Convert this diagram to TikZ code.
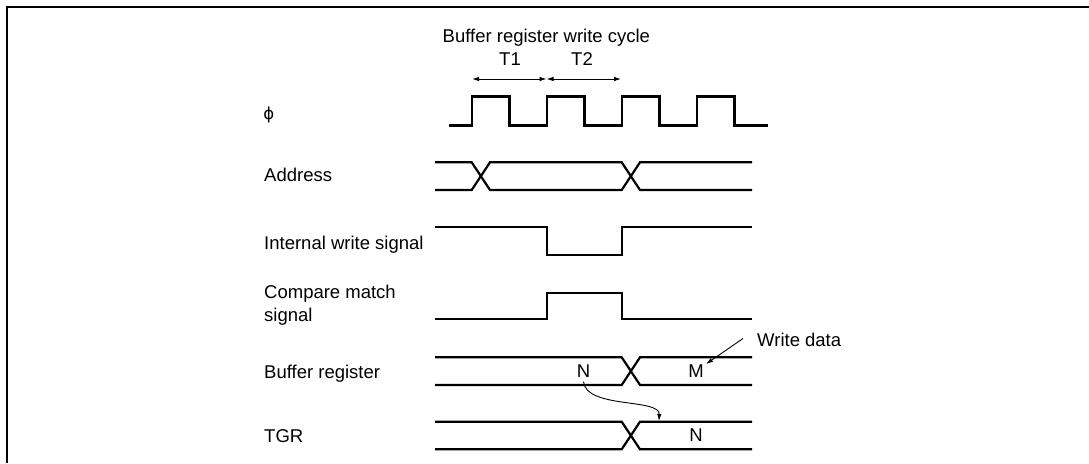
\documentclass[tikz,border=0pt]{standalone}
\usepackage{fontspec}
\setmainfont{Liberation Sans}
\newfontfamily\dejavusym{DejaVu Sans}
\usetikzlibrary{arrows.meta}
\begin{document}
\begin{tikzpicture}[x=1pt,y=-1pt,
  sig/.style={line width=2.2pt,line join=miter,line cap=butt},
  frame/.style={line width=2.6pt},
  lbl/.style={inner sep=0pt,font=\fontsize{18.5}{22.2}\selectfont},
  thinarrow/.style={line width=0.9pt,-{Latex[length=7pt,width=4.5pt]}},
  dblarrow/.style={line width=0.9pt,{Latex[length=7pt,width=4.5pt]}-{Latex[length=7pt,width=4.5pt]}}]
\useasboundingbox (0,0) rectangle (1089,463);
% frame (cropped)
\draw[frame] (7,463) -- (7,7) -- (1089,7);
% titles
\node[lbl,anchor=base west] (title) at (442.5,42) {Buffer register write cycle};
\node[lbl,anchor=base] (t1) at (510,65) {T1};
\node[lbl,anchor=base] (t2) at (582,65) {T2};
\coordinate (a0) at (472,79);
\coordinate (a1) at (546.5,79);
\coordinate (a2) at (621,79);
\draw[dblarrow] (a0) -- (a1);
\draw[dblarrow] (a1) -- (a2);
% labels
\node[lbl,anchor=base,font=\dejavusym\fontsize{16.5}{20}\selectfont] (phi) at (268.7,119) {ϕ};
\node[lbl,anchor=base west] (addr) at (264,181.5) {Address};
\node[lbl,anchor=base west] (iws) at (264,249) {Internal write signal};
\node[lbl,anchor=base west,align=left] (cms) at (264,321) {Compare match\\signal};
\node[lbl,anchor=base west] (bufr) at (264,378.3) {Buffer register};
\node[lbl,anchor=base west] (tgr) at (264,442.7) {TGR};
% clock
\draw[sig] (449,125.5) -- (472,125.5) -- (472,96.5) -- (509.5,96.5) -- (509.5,125.5)
  -- (547,125.5) -- (547,96.5) -- (584.5,96.5) -- (584.5,125.5)
  -- (622,125.5) -- (622,96.5) -- (659.5,96.5) -- (659.5,125.5)
  -- (697,125.5) -- (697,96.5) -- (734.5,96.5) -- (734.5,125.5) -- (768,125.5);
% address bus
\draw[sig] (435,162.3) -- (471.7,162.3) -- (490,190) -- (621.7,190) -- (640,162.3) -- (752,162.3);
\draw[sig] (435,190) -- (471.7,190) -- (490,162.3) -- (621.7,162.3) -- (640,190) -- (752,190);
% internal write
\draw[sig] (435,227.3) -- (546.7,227.3) -- (546.7,255) -- (621.7,255) -- (621.7,227.3) -- (752,227.3);
% compare match
\draw[sig] (435,319) -- (546.7,319) -- (546.7,292.7) -- (621.7,292.7) -- (621.7,319) -- (752,319);
% buffer register
\draw[sig] (435,357.3) -- (621.7,357.3) -- (640,385) -- (752,385);
\draw[sig] (435,385) -- (621.7,385) -- (640,357.3) -- (752,357.3);
\node[lbl] (bn) at (583.5,371) {N};
\node[lbl] (bm) at (696,371) {M};
% TGR
\draw[sig] (435,421.7) -- (621.7,421.7) -- (640,449.3) -- (752,449.3);
\draw[sig] (435,449.3) -- (621.7,449.3) -- (640,421.7) -- (752,421.7);
\node[lbl] (tn) at (696,435.5) {N};
% write data
\node[lbl,anchor=west] (wd) at (757,339.5) {Write data};
\coordinate (wdtip) at (706,364);
\draw[thinarrow] (743,338.5) -- (wdtip);
% transfer arrow
\coordinate (tgrtip) at (659,421);
\draw[thinarrow] (bn.south) ++(0,4) .. controls (586,409) and (660,398) .. (tgrtip);
\end{tikzpicture}
\end{document}
